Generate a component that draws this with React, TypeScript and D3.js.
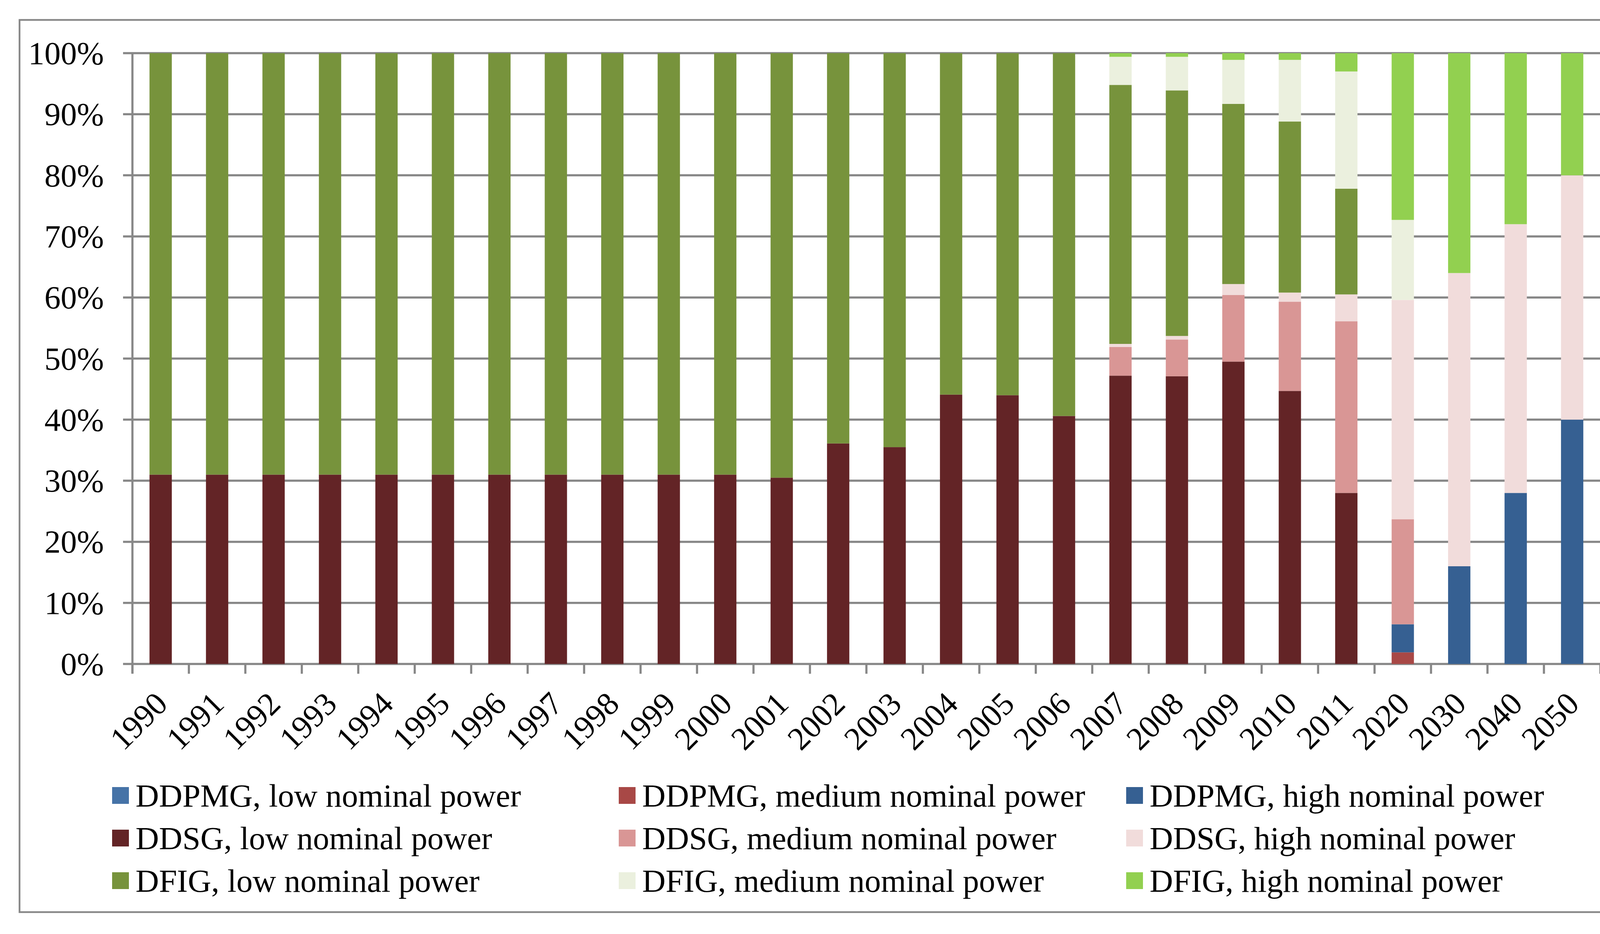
import { useRef, useEffect } from "react";
import { select, scaleBand, scaleLinear, stack, stackOffsetExpand, range } from "d3";

const categories = [
  "1990", "1991", "1992", "1993", "1994", "1995", "1996", "1997", "1998", "1999", "2000",
  "2001", "2002", "2003", "2004", "2005", "2006", "2007", "2008", "2009", "2010", "2011",
  "2020", "2030", "2040", "2050",
];

// shares in percent, one value per category
const ddpmgLow = [0, 0, 0, 0, 0, 0, 0, 0, 0, 0, 0, 0, 0, 0, 0, 0, 0, 0, 0, 0, 0, 0, 0, 0, 0, 0];
const ddpmgMed = [0, 0, 0, 0, 0, 0, 0, 0, 0, 0, 0, 0, 0, 0, 0, 0, 0, 0, 0, 0, 0, 0, 1.9, 0, 0, 0];
const ddpmgHigh = [0, 0, 0, 0, 0, 0, 0, 0, 0, 0, 0, 0, 0, 0, 0, 0, 0, 0, 0, 0, 0, 0, 4.6, 16, 28, 40];
const ddsgLow = [31, 31, 31, 31, 31, 31, 31, 31, 31, 31, 31, 30.5, 36.1, 35.5, 44.1, 44.0, 40.6, 47.2, 47.1, 49.5, 44.7, 28.0, 0, 0, 0, 0];
const ddsgMed = [0, 0, 0, 0, 0, 0, 0, 0, 0, 0, 0, 0, 0, 0, 0, 0, 0, 4.7, 6.0, 10.9, 14.6, 28.1, 17.2, 0, 0, 0];
const ddsgHigh = [0, 0, 0, 0, 0, 0, 0, 0, 0, 0, 0, 0, 0, 0, 0, 0, 0, 0.5, 0.6, 1.8, 1.5, 4.4, 35.9, 48, 44, 40];
const dfigLow = [69, 69, 69, 69, 69, 69, 69, 69, 69, 69, 69, 69.5, 63.9, 64.5, 55.9, 56.0, 59.4, 42.4, 40.2, 29.5, 28.0, 17.3, 0, 0, 0, 0];
const dfigMed = [0, 0, 0, 0, 0, 0, 0, 0, 0, 0, 0, 0, 0, 0, 0, 0, 0, 4.6, 5.5, 7.2, 10.1, 19.2, 13.1, 0, 0, 0];
const dfigHigh = [0, 0, 0, 0, 0, 0, 0, 0, 0, 0, 0, 0, 0, 0, 0, 0, 0, 0.6, 0.6, 1.1, 1.1, 3.0, 27.3, 36, 28, 20];

const seriesNames = [
  "DDPMG, low nominal power", "DDPMG, medium nominal power", "DDPMG, high nominal power",
  "DDSG, low nominal power", "DDSG, medium nominal power", "DDSG, high nominal power",
  "DFIG, low nominal power", "DFIG, medium nominal power", "DFIG, high nominal power",
];
const seriesColors = [
  "#4673a7", "#a84846", "#366092",
  "#632426", "#d99695", "#f1dcdb",
  "#77933c", "#ebf0de", "#92d050",
];
const yTicks = [0, 0.1, 0.2, 0.3, 0.4, 0.5, 0.6, 0.7, 0.8, 0.9, 1];

const FONT = "'Liberation Serif', 'Times New Roman', serif";
const GRID = "#878787";

export default function App() {
  const svgRef = useRef(null);

  useEffect(() => {
    const svg = select(svgRef.current);
    svg.selectAll("*").remove();

    const left = 339, right = 4097, top = 136, bottom = 1699;

    const allSeries = [ddpmgLow, ddpmgMed, ddpmgHigh, ddsgLow, ddsgMed, ddsgHigh, dfigLow, dfigMed, dfigHigh];
    const keys = seriesNames.map((_, i) => "s" + i);
    const rows = categories.map((c, j) => {
      const r: any = { cat: c };
      allSeries.forEach((arr, i) => (r["s" + i] = arr[j]));
      return r;
    });
    const stacked = stack().keys(keys).offset(stackOffsetExpand)(rows);

    const x = scaleBand().domain(categories).range([left, right]);
    const bw = x.step() * 0.395;
    const y = scaleLinear().domain([0, 1]).range([bottom, top]);

    // outer frame
    svg.append("rect")
      .attr("x", 50).attr("y", 51).attr("width", 4133).attr("height", 2283)
      .attr("fill", "#fff").attr("stroke", GRID).attr("stroke-width", 4.5);

    // gridlines with outside ticks
    svg.append("g").selectAll("line").data(yTicks).join("line")
      .attr("x1", left - 24).attr("x2", right)
      .attr("y1", d => y(d)).attr("y2", d => y(d))
      .attr("stroke", GRID).attr("stroke-width", 5.5);

    svg.append("line")
      .attr("x1", left).attr("x2", left).attr("y1", top).attr("y2", bottom + 24)
      .attr("stroke", GRID).attr("stroke-width", 5.5);

    // category boundary ticks
    svg.append("g").selectAll("line").data(range(categories.length + 1)).join("line")
      .attr("x1", i => left + i * x.step()).attr("x2", i => left + i * x.step())
      .attr("y1", bottom).attr("y2", bottom + 25)
      .attr("stroke", GRID).attr("stroke-width", 5.5);

    // bars
    svg.append("g").selectAll("g").data(stacked).join("g")
      .attr("fill", (_, i) => seriesColors[i])
      .selectAll("rect").data(d => d).join("rect")
      .attr("x", d => x(d.data.cat) + (x.step() - bw) / 2)
      .attr("width", bw)
      .attr("y", d => y(d[1]))
      .attr("height", d => Math.max(0, y(d[0]) - y(d[1])));

    // y labels
    svg.append("g").selectAll("text").data(yTicks).join("text")
      .attr("x", 266).attr("y", d => y(d) + 28)
      .attr("text-anchor", "end")
      .attr("font-family", FONT).attr("font-size", 83).attr("fill", "#000")
      .text(d => Math.round(d * 100) + "%");

    // x labels
    svg.append("g").selectAll("text").data(categories).join("text")
      .attr("transform", d => `translate(${x(d) + x.step() / 2 + 22},${bottom + 107}) rotate(-45)`)
      .attr("text-anchor", "end")
      .attr("font-family", FONT).attr("font-size", 83).attr("fill", "#000")
      .text(d => d);

    // legend
    const colX = [287, 1584, 2883];
    const rowY = [2064, 2173, 2282];
    const items = svg.append("g").selectAll("g").data(seriesNames).join("g")
      .attr("transform", (_, i) => `translate(${colX[i % 3]},${rowY[Math.floor(i / 3)]})`);
    items.append("rect")
      .attr("x", 0).attr("y", -50).attr("width", 43).attr("height", 43)
      .attr("fill", (_, i) => seriesColors[i]);
    items.append("text")
      .attr("x", 60).attr("y", 0)
      .attr("font-family", FONT).attr("font-size", 83).attr("fill", "#000")
      .text(d => d);
  }, []);

  return (
    <svg
      ref={svgRef}
      width={4247}
      height={2390}
      style={{ position: "absolute", left: 0, top: 0, background: "#fff" }}
    />
  );
}
